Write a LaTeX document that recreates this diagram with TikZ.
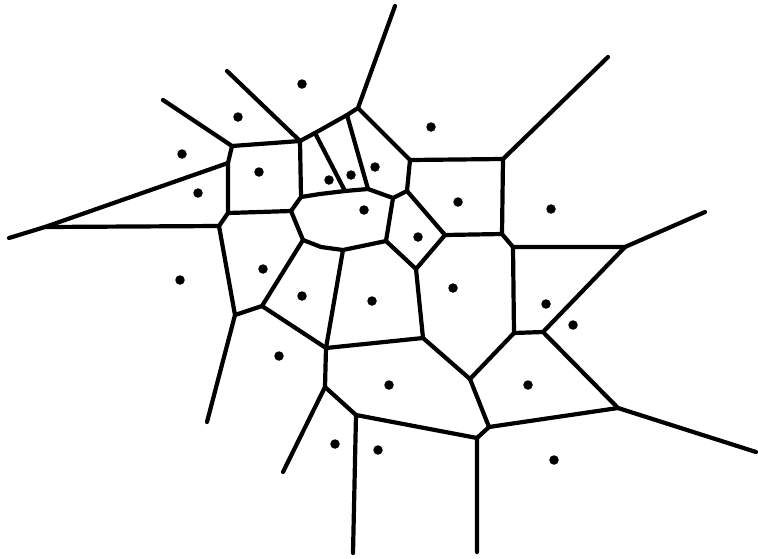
\documentclass[tikz,border=0pt]{standalone}
\begin{document}
\begin{tikzpicture}[x=1pt,y=-1pt,
  edge/.style={line width=4.2pt,line cap=round,line join=round,black},
  site/.style={circle,fill=black,inner sep=0pt,minimum size=9.5pt}]
\useasboundingbox (0,0) rectangle (758,558);
% vertices
\coordinate (A) at (395,6);
\coordinate (B) at (358,108);
\coordinate (C) at (347,115);
\coordinate (D) at (315,133);
\coordinate (E) at (300,141);
\coordinate (E0) at (227,71);
\coordinate (TL) at (232,146);
\coordinate (TLend) at (163,100);
\coordinate (V2) at (228,163);
\coordinate (Wtip) at (9,238);
\coordinate (W) at (45,227);
\coordinate (V3) at (228,213);
\coordinate (V4) at (219,226);
\coordinate (BRs) at (301,197);
\coordinate (P1) at (291,211);
\coordinate (P2) at (303,240);
\coordinate (P3) at (343,250);
\coordinate (P4) at (386,241);
\coordinate (P5) at (393,198);
\coordinate (G1) at (345,191);
\coordinate (G2) at (368,189);
\coordinate (F) at (410,160);
\coordinate (H) at (407,191);
\coordinate (I) at (445,235);
\coordinate (J) at (416,269);
\coordinate (K1) at (503,159);
\coordinate (K1end) at (608,57);
\coordinate (K) at (502,234);
\coordinate (L) at (513,247);
\coordinate (M) at (625,247);
\coordinate (Mend) at (705,212);
\coordinate (N) at (262,306);
\coordinate (O) at (235,315);
\coordinate (Oend) at (207,422);
\coordinate (Q) at (326,348);
\coordinate (R) at (423,338);
\coordinate (S) at (470,379);
\coordinate (T) at (514,333);
\coordinate (U) at (543,332);
\coordinate (V) at (618,408);
\coordinate (Vend) at (756,452);
\coordinate (X) at (489,427);
\coordinate (Y) at (477,438);
\coordinate (Yend) at (477,552);
\coordinate (Z) at (356,415);
\coordinate (Zend) at (353,553);
\coordinate (Q2) at (325,387);
\coordinate (Q2end) at (283,472);
% edges
\draw[edge] (A) -- (B) -- (C) -- (D) -- (E) -- (E0);
\draw[edge] (E) -- (TL) -- (TLend);
\draw[edge] (TL) -- (V2) -- (V3) -- (V4);
\draw[edge] (V2) -- (W) -- (Wtip);
\draw[edge] (W) -- (V4);
\draw[edge] (V3) -- (P1);
\draw[edge] (E) -- (BRs) -- (P1);
\draw[edge] (BRs) -- (320,194) -- (G1) -- (G2) -- (P5);
\draw[edge] (D) -- (G1);
\draw[edge] (C) -- (G2);
\draw[edge] (B) -- (F) -- (H) -- (P5);
\draw[edge] (F) -- (K1) -- (K1end);
\draw[edge] (K1) -- (K) -- (L) -- (M) -- (Mend);
\draw[edge] (H) -- (I) -- (K);
\draw[edge] (M) -- (U);
\draw[edge] (L) -- (T);
\draw[edge] (I) -- (J) -- (P4) -- (P5);
\draw[edge] (J) -- (R);
\draw[edge] (P1) -- (P2) -- (321,247) -- (P3) -- (P4);
\draw[edge] (P3) -- (Q);
\draw[edge] (P2) -- (N) -- (O) -- (V4);
\draw[edge] (O) -- (Oend);
\draw[edge] (N) -- (Q) -- (R) -- (S) -- (T) -- (U) -- (V) -- (Vend);
\draw[edge] (V) -- (X);
\draw[edge] (S) -- (X) -- (Y) -- (Yend);
\draw[edge] (Y) -- (Z) -- (Zend);
\draw[edge] (Z) -- (Q2) -- (Q);
\draw[edge] (Q2) -- (Q2end);
% sites
\foreach \p [count=\i] in {(302,84),(238,117),(182,154),(259,172),(198,193),
  (431,127),(329,180),(351,175),(375,167),(364,210),(458,202),(551,209),
  (418,237),(180,280),(263,269),(302,296),(372,301),(453,288),(546,304),
  (573,325),(279,356),(389,385),(528,385),(335,444),(378,450),(554,460)}
  \node[site] (s\i) at \p {};
\end{tikzpicture}
\end{document}
